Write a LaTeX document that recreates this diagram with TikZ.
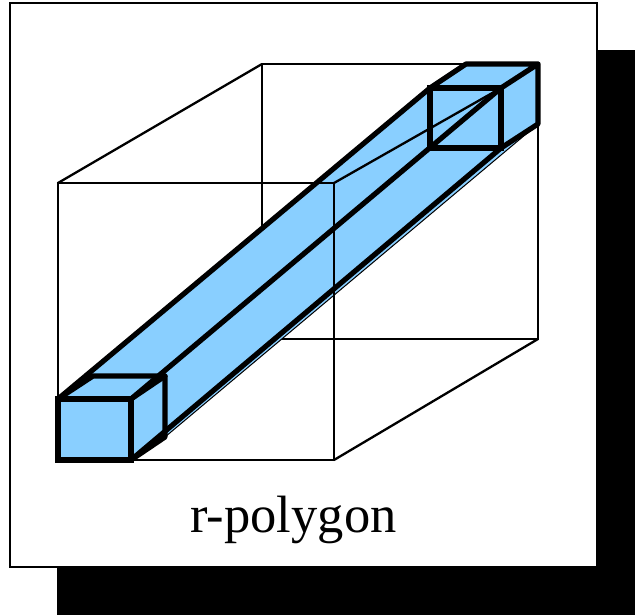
\documentclass[tikz,border=0pt]{standalone}
\usepackage{fontspec}
\setmainfont{Liberation Serif}
\definecolor{barblue}{RGB}{137,207,255}
\tikzset{
  wire/.style={draw=black,line width=2.3pt,line cap=round},
  thick edge/.style={draw=black,line width=5.2pt,line join=round,line cap=round},
  square edge/.style={draw=black,line width=5.2pt,line join=miter},
  fine edge/.style={draw=black,line width=1pt},
}
\begin{document}
\begin{tikzpicture}[x=1pt,y=-1pt]
\useasboundingbox (0,0) rectangle (635,615);
% shadow and frame
\fill[black] (57,50) rectangle (635,615);
\draw[fill=white,line width=2.3pt] (10,3) rectangle (597,567);
% wire box
\coordinate (ftl) at (58,183); \coordinate (ftr) at (334,183);
\coordinate (fbl) at (58,460); \coordinate (fbr) at (334,460);
\coordinate (btl) at (262,64); \coordinate (btr) at (538,64);
\coordinate (bbl) at (262,339); \coordinate (bbr) at (538,339);
\draw[wire] (ftl) rectangle (fbr);
\draw[wire] (btl) rectangle (bbr);
\draw[wire] (ftl) -- (btl) (ftr) -- (btr) (fbr) -- (bbr);
% bar corners
\coordinate (a1) at (58,399); \coordinate (a2) at (131,399);
\coordinate (a3) at (131,460); \coordinate (a4) at (58,460);
\coordinate (b1) at (93,376); \coordinate (b2) at (165,376);
\coordinate (b3) at (165,437);
\coordinate (c1) at (430,88); \coordinate (c2) at (501,88);
\coordinate (c3) at (501,148); \coordinate (c4) at (430,148);
\coordinate (d1) at (466,64); \coordinate (d2) at (538,64);
\coordinate (d3) at (538,124);
% bar
\path[fill=barblue,fine edge] (a3) -- (b3) -- (d3) -- (c3) -- cycle;
\fill[barblue] (a1) -- (c1) -- (d1) -- (d2) -- (d3) -- (c3) -- (a3) -- (a4) -- cycle;
% wire edges passing in front of the bar
\draw[wire] (ftl) -- (ftr) -- (fbr);
\draw[wire] (ftr) -- (c2);
% bar edges
\draw[thick edge] (a1) -- (c1) (a2) -- (c2) (a3) -- (c3);
\draw[thick edge] (c1) -- (d1) -- (d2) -- (d3) -- (c3) (c2) -- (d2);
\draw[square edge] (c1) rectangle (c3);
\draw[thick edge] (a3) -- (b3) -- (b2) -- (b1) -- (a1);
\draw[thick edge] (a2) -- (b2);
\draw[square edge,fill=barblue] (a1) rectangle (a3);
\node[inner sep=0pt,font=\fontsize{52.5}{60}\selectfont] (label) at (293.5,520) {r-polygon};
\end{tikzpicture}
\end{document}
